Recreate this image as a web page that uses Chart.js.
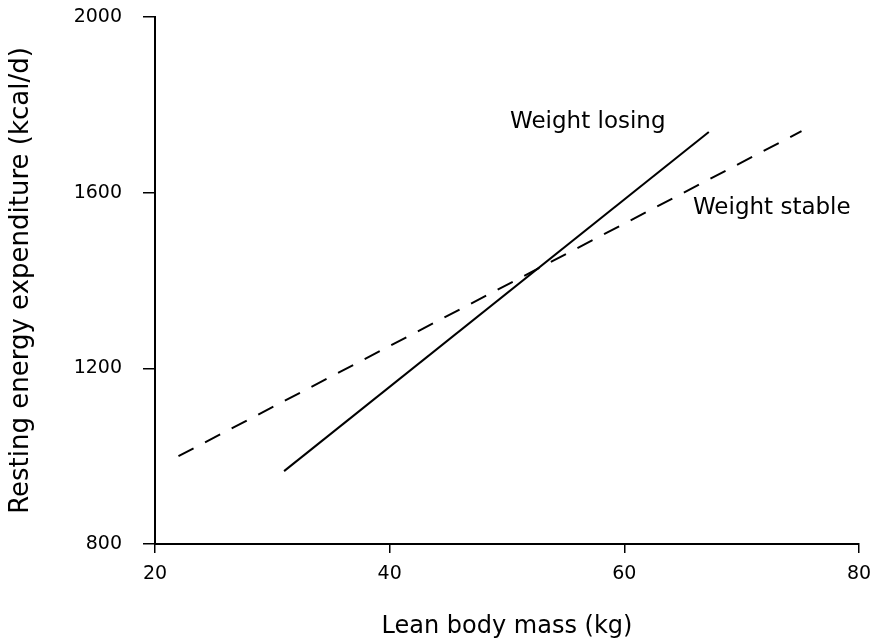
<!DOCTYPE html>
<html>
<head>
<meta charset="utf-8">
<script src="https://cdn.jsdelivr.net/npm/chart.js@4.4.1/dist/chart.umd.min.js"></script>
<style>
  html, body { margin: 0; padding: 0; background: #fff; }
  canvas { display: block; }
</style>
</head>
<body>
<canvas id="remChart" width="884" height="644"></canvas>
<script>
// regression lines: lean body mass (kg) vs resting energy expenditure (kcal/d)
const seriesNames = ['Weight losing', 'Weight stable'];
const losingPoints = [[31.0, 966], [67.2, 1738]];
const stablePoints = [[22.0, 1000], [75.1, 1740]];
const xTicks = [20, 40, 60, 80];
const yTicks = [800, 1200, 1600, 2000];

const toXY = pts => pts.map(p => ({ x: p[0], y: p[1] }));

// line labels, anchored in data units
const lineLabels = {
  id: 'lineLabels',
  afterDatasetsDraw(chart) {
    const { ctx, scales: { x, y } } = chart;
    const spots = [
      { text: seriesNames[0], at: [50.26, 1747] },
      { text: seriesNames[1], at: [65.85, 1551] },
    ];
    ctx.save();
    ctx.fillStyle = '#000';
    ctx.font = '23px "DejaVu Sans"';
    ctx.textAlign = 'left';
    ctx.textBaseline = 'alphabetic';
    spots.forEach(s => {
      ctx.fillText(s.text, x.getPixelForValue(s.at[0]), y.getPixelForValue(s.at[1]));
    });
    ctx.restore();
  }
};

const tickFont = { family: '"DejaVu Sans", sans-serif', size: 19 };
const plain = v => String(v);

new Chart(document.getElementById('remChart'), {
  type: 'scatter',
  data: {
    datasets: [
      {
        label: seriesNames[0],
        data: toXY(losingPoints),
        showLine: true,
        borderColor: '#000',
        borderWidth: 2,
        pointRadius: 0,
      },
      {
        label: seriesNames[1],
        data: toXY(stablePoints),
        showLine: true,
        borderColor: '#000',
        borderWidth: 2,
        borderDash: [17, 13],
        pointRadius: 0,
      },
    ],
  },
  options: {
    responsive: false,
    animation: false,
    layout: { padding: { top: 17, right: 25, left: 0, bottom: 0 } },
    plugins: {
      legend: { display: false },
      tooltip: { enabled: false },
    },
    scales: {
      x: {
        type: 'linear',
        min: 20,
        max: 80,
        afterBuildTicks: s => { s.ticks = xTicks.map(v => ({ value: v })); },
        afterFit: s => { s.height = 100; s.paddingLeft = 0; s.paddingRight = 0; },
        ticks: { color: '#000', font: tickFont, padding: 10, callback: plain },
        grid: { drawOnChartArea: false, drawTicks: true, tickLength: 9, color: '#000', lineWidth: 1.5 },
        border: { display: true, color: '#000', width: 2 },
        title: {
          display: true,
          text: 'Lean body mass (kg)',
          color: '#000',
          font: { family: '"DejaVu Sans"', size: 24 },
          padding: { top: 0, bottom: 3 },
        },
      },
      y: {
        type: 'linear',
        min: 800,
        max: 2000,
        afterBuildTicks: s => { s.ticks = yTicks.map(v => ({ value: v })); },
        afterFit: s => { s.width = 155; s.paddingTop = 0; s.paddingBottom = 0; },
        ticks: { color: '#000', font: tickFont, padding: 21, callback: plain },
        grid: { drawOnChartArea: false, drawTicks: true, tickLength: 12, color: '#000', lineWidth: 1.5 },
        border: { display: true, color: '#000', width: 2 },
        title: {
          display: true,
          text: 'Resting energy expenditure (kcal/d)',
          color: '#000',
          font: { family: '"DejaVu Sans"', size: 26 },
          padding: { top: 6, bottom: 0 },
        },
      },
    },
  },
  plugins: [lineLabels],
});
</script>
</body>
</html>
